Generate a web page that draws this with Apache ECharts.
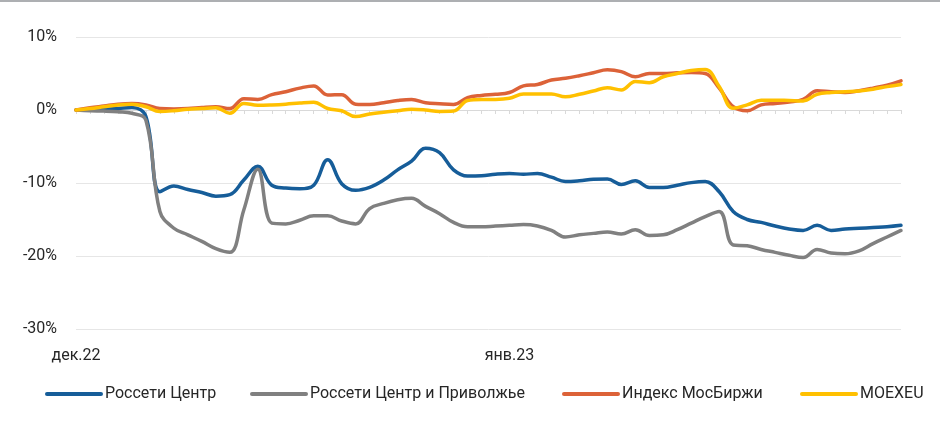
<!DOCTYPE html>
<html>
<head>
<meta charset="utf-8">
<script src="https://cdn.jsdelivr.net/npm/echarts@6/dist/echarts.min.js"></script>
<style>
html,body{margin:0;padding:0;background:#fff;}
#chart{width:940px;height:425px;}
</style>
</head>
<body>
<div id="chart"></div>
<script>
// ---- DATA ----
// one category per calendar day, 01.12.2022 .. 29.01.2023
var startDate = [2022, 11, 1];
var dayCount = 60;
var tickLabelIndex = [0, 31];
var tickLabelText = ['дек.22', 'янв.23'];
var yTicks = [10, 0, -10, -20, -30];
var seriesNames = ['Россети Центр', 'Россети Центр и Приволжье', 'Индекс МосБиржи', 'MOEXEU'];

var rosseti = [0,0,0.1,0.2,0.35,-0.9,-11.2,-10.4,-10.9,-11.3,-11.8,-11.6,-9.6,-7.7,-10.3,-10.7,-10.8,-10.3,-6.8,-10.1,-11.0,-10.6,-9.6,-8.2,-7.0,-5.25,-5.85,-8.2,-9.05,-9.0,
  -8.8,-8.7,-8.8,-8.7,-9.2,-9.8,-9.7,-9.5,-9.45,-10.2,-9.7,-10.6,-10.6,-10.3,-9.95,-9.8,-11.2,-13.9,-15.0,-15.4,-15.9,-16.3,-16.5,-15.8,-16.5,-16.3,-16.2,-16.1,-16.0,-15.8];
var rossetiVolga = [0,-0.1,-0.15,-0.25,-0.45,-1.4,-13.9,-16.2,-17.1,-18.0,-19.0,-19.5,-13.7,-8.1,-15.5,-15.6,-15.1,-14.5,-14.5,-15.2,-15.6,-13.5,-12.8,-12.3,-12.1,-13.2,-14.2,-15.4,-16.0,-16.0,
  -15.9,-15.8,-15.7,-15.9,-16.5,-17.4,-17.1,-16.9,-16.7,-17.0,-16.4,-17.2,-17.1,-16.4,-15.5,-14.6,-13.9,-18.5,-18.6,-19.1,-19.5,-19.9,-20.2,-19.1,-19.6,-19.7,-19.3,-18.3,-17.4,-16.5];
var imoex = [0,0.3,0.55,0.8,0.9,0.7,0.2,0.15,0.2,0.35,0.45,0.2,1.55,1.45,2.1,2.5,3.0,3.3,2.05,2.1,0.8,0.75,1.0,1.3,1.45,1.0,0.85,0.75,1.7,2.0,
  2.15,2.4,3.3,3.5,4.1,4.35,4.7,5.1,5.5,5.25,4.55,5.0,5.0,5.1,5.15,5.0,3.0,0.45,-0.1,0.7,0.9,1.1,1.45,2.65,2.5,2.4,2.65,3.0,3.4,4.0];
var moexeu = [0,0.2,0.45,0.7,0.8,0.45,-0.2,-0.1,0.1,0.2,0.3,-0.45,0.9,0.65,0.7,0.8,0.95,1.05,0.2,-0.1,-0.9,-0.55,-0.3,-0.1,0.1,0,-0.2,-0.15,1.3,1.45,
  1.45,1.6,2.2,2.2,2.2,1.8,2.15,2.6,3.05,2.75,3.9,3.75,4.55,5.0,5.4,5.55,3.2,0.25,0.7,1.35,1.35,1.3,1.25,2.15,2.4,2.5,2.6,2.85,3.2,3.5];

// ---- BUILD ----
var categories = [];
for (var d = 0; d < dayCount; d++) {
  var dt = new Date(startDate[0], startDate[1], startDate[2] + d);
  categories.push(dt.getFullYear() + '-' + (dt.getMonth() + 1) + '-' + dt.getDate());
}
var colors = ['#165d99', '#808080', '#dc6238', '#ffc000'];
var values = [rosseti, rossetiVolga, imoex, moexeu];
var legendLeft = [45, 250, 562, 800];
var FONT = "Roboto, 'Noto Sans', sans-serif";

var legends = seriesNames.map(function (n, k) {
  return {
    left: legendLeft[k], top: 386, padding: 0, itemWidth: 54, itemHeight: 16, itemGap: 0,
    data: [n], selectedMode: false,
    itemStyle: {opacity: 0},
    lineStyle: {width: 4, cap: 'round'},
    textStyle: {fontFamily: FONT, fontSize: 16, color: '#262626', lineHeight: 16, padding: [0, 0, 0, -1]}
  };
});

var chart = echarts.init(document.getElementById('chart'), null, {renderer: 'canvas'});
chart.setOption({
  animation: false,
  backgroundColor: '#ffffff',
  graphic: [{type: 'rect', left: 0, top: 0, shape: {width: 940, height: 2}, style: {fill: '#adafb2'}}],
  grid: {left: 76, right: 39, top: 37, bottom: 96},
  legend: legends,
  xAxis: [{
    type: 'category', data: categories, boundaryGap: false,
    axisLine: {onZero: true, lineStyle: {color: '#d9d9d9', width: 1}},
    axisTick: {show: true, interval: 0, length: 4, lineStyle: {color: '#d9d9d9'}},
    axisLabel: {show: false}
  }, {
    type: 'category', data: categories, boundaryGap: false, position: 'bottom',
    axisLine: {show: false, onZero: false}, axisTick: {show: false},
    axisLabel: {
      show: true, margin: 19, color: '#262626', fontFamily: FONT, fontSize: 16,
      interval: function (idx) { return tickLabelIndex.indexOf(idx) >= 0; },
      formatter: function (val, idx) { var k = tickLabelIndex.indexOf(idx); return k >= 0 ? tickLabelText[k] : ''; }
    }
  }],
  yAxis: {
    type: 'value', min: yTicks[yTicks.length - 1], max: yTicks[0], interval: 10,
    axisLine: {show: false}, axisTick: {show: false},
    splitLine: {lineStyle: {color: '#e6e6e6', width: 1}},
    axisLabel: {margin: 19, color: '#262626', fontFamily: FONT, fontSize: 16, formatter: function (v) { return v + '%'; }}
  },
  series: seriesNames.map(function (n, k) {
    return {
      name: n, type: 'line', data: values[k], xAxisIndex: 0,
      smooth: 0.4, symbol: 'none', color: colors[k],
      lineStyle: {width: 3.5, color: colors[k], cap: 'round', join: 'round'}
    };
  })
});
</script>
</body>
</html>
